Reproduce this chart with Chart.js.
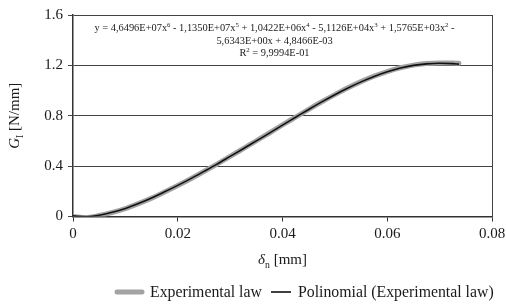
<!DOCTYPE html>
<html>
<head>
<meta charset="utf-8">
<script src="https://cdn.jsdelivr.net/npm/chart.js@4.4.0/dist/chart.umd.min.js"></script>
<style>
  html, body { margin: 0; padding: 0; background: #fff; }
  #wrap { width: 506px; height: 305px; }
</style>
</head>
<body>
<div id="wrap"><canvas id="grafico"></canvas></div>
<script>
// Dados
const deslocamento = [0, 0.0025, 0.005, 0.0075, 0.01, 0.0125, 0.015, 0.0175, 0.02, 0.0225, 0.025,
  0.0275, 0.03, 0.0325, 0.035, 0.0375, 0.04, 0.0425, 0.045, 0.0475, 0.05, 0.0525, 0.055,
  0.0575, 0.06, 0.0625, 0.065, 0.0675, 0.07, 0.0725, 0.0737];
const leiExperimental = [0, -0.008, 0.008, 0.032, 0.063, 0.102, 0.146, 0.195, 0.246, 0.300, 0.357,
  0.416, 0.477, 0.539, 0.601, 0.663, 0.727, 0.789, 0.851, 0.911, 0.968, 1.022, 1.071,
  1.114, 1.151, 1.181, 1.202, 1.214, 1.219, 1.219, 1.216];
const polinomial = [0.005, -0.002, 0.010, 0.033, 0.064, 0.103, 0.147, 0.196, 0.247, 0.301, 0.358,
  0.416, 0.477, 0.538, 0.600, 0.662, 0.726, 0.788, 0.850, 0.910, 0.967, 1.020, 1.069,
  1.112, 1.149, 1.179, 1.200, 1.212, 1.217, 1.214, 1.210];
const ticksX = [0, 0.02, 0.04, 0.06, 0.08];
const ticksY = [0, 0.4, 0.8, 1.2, 1.6];
const nomesSeries = ['Experimental law', 'Polinomial (Experimental law)'];

const fonte = '"Liberation Serif", "Times New Roman", serif';
const corTexto = '#1a1a1a';

// Desenha texto com itálico, subscrito e sobrescrito
function textoRico(ctx, partes, x, y, tam, alinhar) {
  const medir = p => {
    const t = p.s === 'sub' || p.s === 'sup' ? tam * 0.65 : tam;
    ctx.font = (p.s === 'i' ? 'italic ' : '') + t + 'px ' + fonte;
    return ctx.measureText(p.t).width;
  };
  let total = 0;
  partes.forEach(p => total += medir(p));
  let cx = alinhar === 'center' ? x - total / 2 : x;
  ctx.textBaseline = 'alphabetic';
  ctx.textAlign = 'left';
  partes.forEach(p => {
    const w = medir(p);
    let dy = 0;
    if (p.s === 'sub') dy = tam * 0.25;
    if (p.s === 'sup') dy = -tam * 0.38;
    ctx.fillText(p.t, cx, y + dy);
    cx += w;
  });
}

const decoracao = {
  id: 'decoracao',
  afterDraw(chart) {
    const ctx = chart.ctx;
    const area = chart.chartArea;
    ctx.save();
    // borda direita da área do gráfico
    ctx.strokeStyle = '#444';
    ctx.lineWidth = 1;
    ctx.beginPath();
    ctx.moveTo(Math.round(area.right) + 0.5, area.top);
    ctx.lineTo(Math.round(area.right) + 0.5, area.bottom);
    ctx.stroke();

    ctx.fillStyle = corTexto;
    // equação da linha de tendência
    const meio = (area.left + area.right) / 2 - 8;
    const te = 10.4;
    textoRico(ctx, [
      { t: 'y = 4,6496E+07x' }, { t: '6', s: 'sup' },
      { t: ' - 1,1350E+07x' }, { t: '5', s: 'sup' },
      { t: ' + 1,0422E+06x' }, { t: '4', s: 'sup' },
      { t: ' - 5,1126E+04x' }, { t: '3', s: 'sup' },
      { t: ' + 1,5765E+03x' }, { t: '2', s: 'sup' }, { t: ' -' }
    ], meio, area.top + 16, te, 'center');
    textoRico(ctx, [{ t: '5,6343E+00x + 4,8466E-03' }], meio, area.top + 29, te, 'center');
    textoRico(ctx, [{ t: 'R' }, { t: '2', s: 'sup' }, { t: ' = 9,9994E-01' }], meio, area.top + 41, te, 'center');

    // título do eixo x
    textoRico(ctx, [{ t: 'δ', s: 'i' }, { t: 'n', s: 'sub' }, { t: ' [mm]' }],
      (area.left + area.right) / 2, 264, 15, 'center');

    // título do eixo y
    ctx.save();
    ctx.translate(19, (area.top + area.bottom) / 2);
    ctx.rotate(-Math.PI / 2);
    textoRico(ctx, [{ t: 'G', s: 'i' }, { t: 'I', s: 'sub' }, { t: ' [N/mm]' }], 0, 0, 15, 'center');
    ctx.restore();

    // legenda
    const ds = chart.data.datasets;
    const yLeg = 292;
    const amostras = [[117, 142, 150], [271, 291, 298]];
    ds.forEach((d, i) => {
      const [x0, x1, xt] = amostras[i];
      ctx.strokeStyle = d.borderColor;
      ctx.lineWidth = d.borderWidth;
      ctx.lineCap = i === 0 ? 'round' : 'butt';
      ctx.beginPath();
      ctx.moveTo(x0, yLeg);
      ctx.lineTo(x1, yLeg);
      ctx.stroke();
      ctx.font = '15.8px ' + fonte;
      ctx.fillStyle = corTexto;
      ctx.textAlign = 'left';
      ctx.textBaseline = 'middle';
      ctx.fillText(d.label, xt, yLeg + 1);
    });
    ctx.restore();
  }
};

const ctxGrafico = document.getElementById('grafico').getContext('2d');
new Chart(ctxGrafico, {
  type: 'line',
  data: {
    datasets: [{
      label: nomesSeries[0],
      data: deslocamento.map((x, i) => ({ x: x, y: leiExperimental[i] })),
      borderColor: '#a3a3a3',
      borderWidth: 5,
      borderCapStyle: 'round',
      pointRadius: 0,
      order: 2,
      cubicInterpolationMode: 'monotone'
    }, {
      label: nomesSeries[1],
      data: deslocamento.map((x, i) => ({ x: x, y: polinomial[i] })),
      borderColor: '#111',
      borderWidth: 1.6,
      pointRadius: 0,
      order: 1,
      cubicInterpolationMode: 'monotone'
    }]
  },
  options: {
    responsive: true,
    maintainAspectRatio: false,
    animation: false,
    layout: { padding: { left: 0, right: 14, top: 15, bottom: 0 } },
    plugins: {
      legend: { display: false },
      tooltip: { enabled: false }
    },
    scales: {
      x: {
        type: 'linear',
        min: 0,
        max: 0.08,
        afterFit: s => { s.height = 88.5; s.paddingRight = 0; s.paddingLeft = 0; },
        afterBuildTicks: s => { s.ticks = ticksX.map(v => ({ value: v })); },
        ticks: {
          font: { family: fonte, size: 15 },
          color: corTexto,
          padding: 4,
          maxRotation: 0,
          callback: v => String(v)
        },
        grid: { drawOnChartArea: false, drawTicks: true, tickLength: 5, color: '#333' },
        border: { color: '#333', width: 1.5 }
      },
      y: {
        min: 0,
        max: 1.6,
        afterFit: s => { s.width = 73; s.paddingTop = 0; s.paddingBottom = 0; },
        afterBuildTicks: s => { s.ticks = ticksY.map(v => ({ value: v })); },
        ticks: {
          font: { family: fonte, size: 15 },
          color: corTexto,
          padding: 5,
          callback: v => String(v)
        },
        grid: { color: '#444', lineWidth: 1, tickLength: 5 },
        border: { color: '#333', width: 1.5 }
      }
    }
  },
  plugins: [decoracao]
});
</script>
</body>
</html>
